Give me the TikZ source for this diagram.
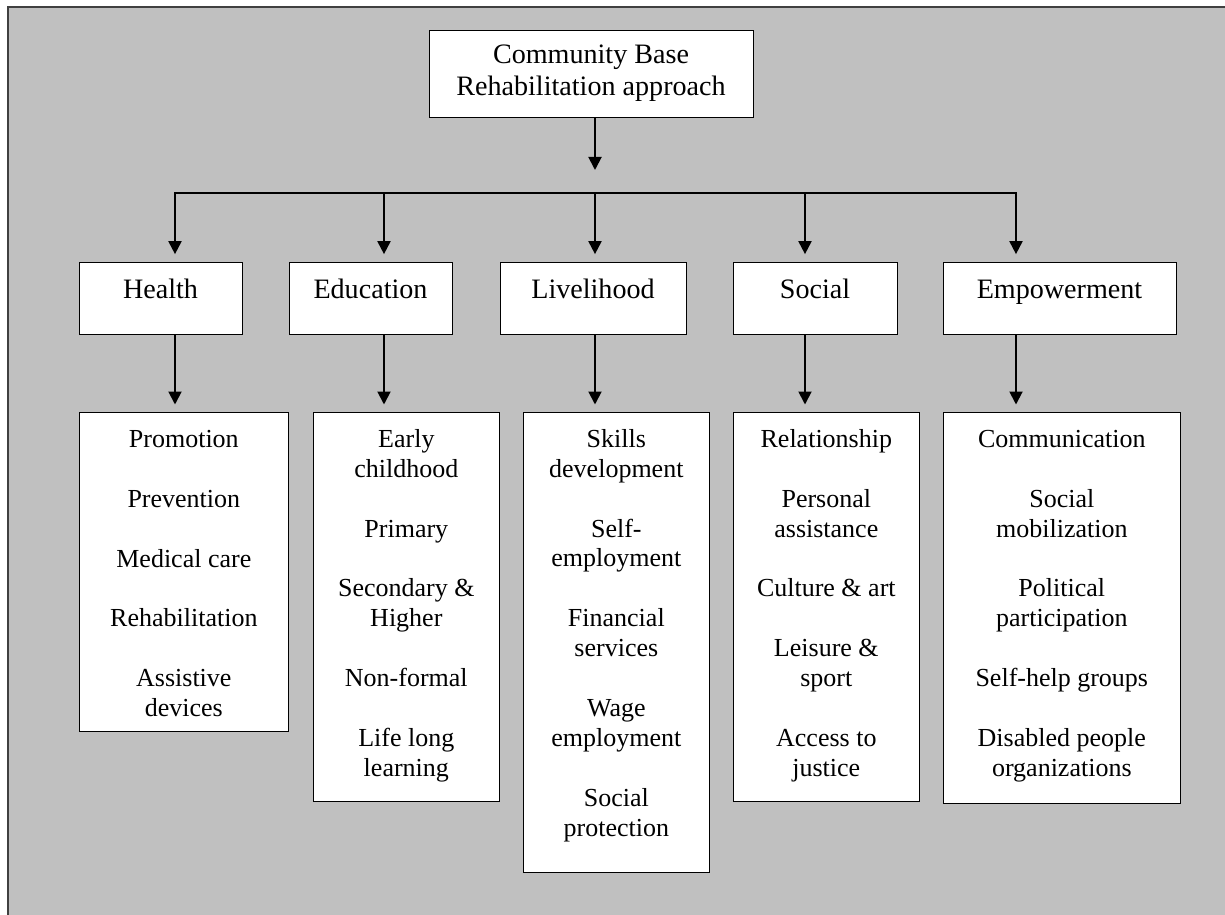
\documentclass[tikz,border=0pt]{standalone}
\usepackage{fontspec}
\setmainfont{Liberation Serif}
\usetikzlibrary{arrows.meta}
\definecolor{panel}{HTML}{C0C0C0}
% top-aligned list inside a box of fixed size
\newcommand{\itemlist}[3]{\parbox[t][#2][t]{#1}{\centering\rule{0pt}{0.7cm}#3}}

\begin{document}
\begin{tikzpicture}[x=0.02cm,y=-0.02cm,
  head/.style={draw, fill=white, align=center, inner sep=0pt, minimum width=6.48cm, minimum height=1.74cm, font=\fontsize{16}{18.2}\selectfont},
  area/.style={draw, fill=white, inner sep=0pt, text height=0.74cm, text depth=0.70cm, font=\fontsize{16}{18}\selectfont},
  items/.style={draw, fill=white, inner sep=0pt, anchor=north west, font=\fontsize{14.8}{17}\selectfont},
  arr/.style={line width=1.1pt, -{Triangle[length=0.26cm,width=0.26cm]}, shorten >=0.15cm}]
\useasboundingbox (0,0) rectangle (1225,915);
\fill[panel] (8,7) rectangle (1225,915);
\draw[line width=0.6pt, black!75] (8,915) -- (8,7) -- (1225,7);

\node[head] (cbr) at (591,73.5) {Community Base\\Rehabilitation approach};

\node[area, minimum width=3.26cm] (health) at (160.5,298) {Health};
\node[area, minimum width=3.26cm] (education) at (370.5,298) {Education};
\node[area, minimum width=3.72cm] (livelihood) at (593,298) {Livelihood};
\node[area, minimum width=3.28cm] (social) at (815,298) {Social};
\node[area, minimum width=4.66cm] (empowerment) at (1059.5,298) {Empowerment};

\node[items] (healthlist) at (79,412) {\itemlist{4.18cm}{6.38cm}{Promotion\\[0.6cm]Prevention\\[0.6cm]Medical care\\[0.6cm]Rehabilitation\\[0.6cm]Assistive\\devices}};
\node[items] (educationlist) at (313,412) {\itemlist{3.72cm}{7.78cm}{Early\\childhood\\[0.6cm]Primary\\[0.6cm]Secondary \&\\Higher\\[0.6cm]Non-formal\\[0.6cm]Life long\\learning}};
\node[items] (livelihoodlist) at (523,412) {\itemlist{3.72cm}{9.2cm}{Skills\\development\\[0.6cm]Self-\\employment\\[0.6cm]Financial\\services\\[0.6cm]Wage\\employment\\[0.6cm]Social\\protection}};
\node[items] (sociallist) at (733,412) {\itemlist{3.72cm}{7.78cm}{Relationship\\[0.6cm]Personal\\assistance\\[0.6cm]Culture \& art\\[0.6cm]Leisure \&\\sport\\[0.6cm]Access to\\justice}};
\node[items] (empowermentlist) at (943,412) {\itemlist{4.74cm}{7.82cm}{Communication\\[0.6cm]Social\\mobilization\\[0.6cm]Political\\participation\\[0.6cm]Self-help groups\\[0.6cm]Disabled people\\organizations}};

\coordinate (hub) at (595,170);
\coordinate (hx) at (175,193);
\coordinate (ex) at (384,193);
\coordinate (lx) at (595,193);
\coordinate (sx) at (805,193);
\coordinate (px) at (1016,193);

\draw[arr, shorten >=0pt] (cbr.south -| hub) -- (hub);
\draw[line width=1.1pt, line cap=rect] (hx) -- (px);

\draw[arr] (hx) -- (health.north -| hx);
\draw[arr] (ex) -- (education.north -| ex);
\draw[arr] (lx) -- (livelihood.north -| lx);
\draw[arr] (sx) -- (social.north -| sx);
\draw[arr] (px) -- (empowerment.north -| px);

\draw[arr] (health.south -| hx) -- (healthlist.north -| hx);
\draw[arr] (education.south -| ex) -- (educationlist.north -| ex);
\draw[arr] (livelihood.south -| lx) -- (livelihoodlist.north -| lx);
\draw[arr] (social.south -| sx) -- (sociallist.north -| sx);
\draw[arr] (empowerment.south -| px) -- (empowermentlist.north -| px);
\end{tikzpicture}
\end{document}
